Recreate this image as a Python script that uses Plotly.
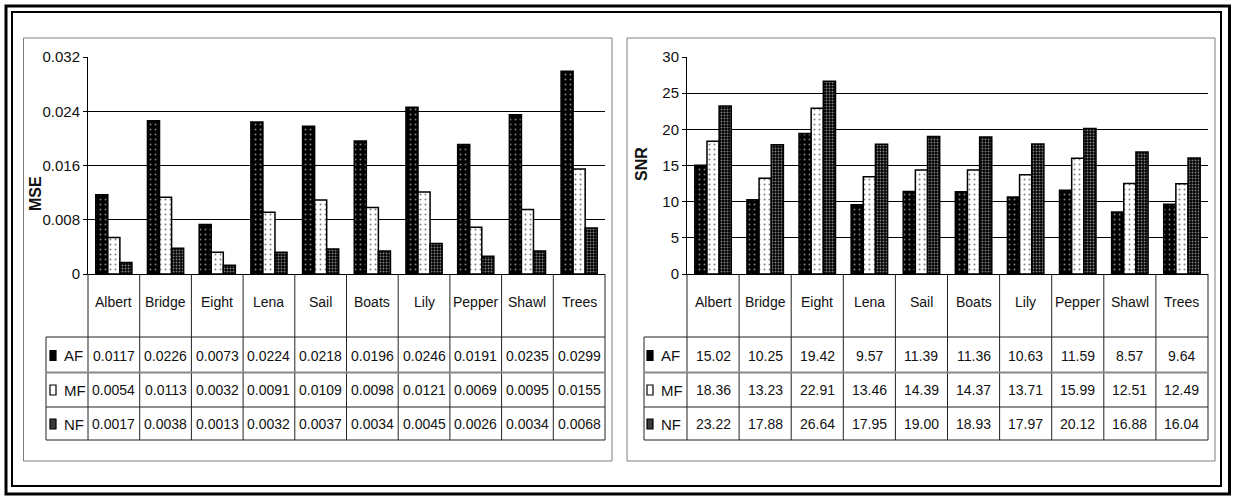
import plotly.graph_objects as go

# ---------------- data ----------------
categories = ["Albert", "Bridge", "Eight", "Lena", "Sail", "Boats", "Lily", "Pepper", "Shawl", "Trees"]
series_names = ["AF", "MF", "NF"]

mse_af = [0.0117, 0.0226, 0.0073, 0.0224, 0.0218, 0.0196, 0.0246, 0.0191, 0.0235, 0.0299]
mse_mf = [0.0054, 0.0113, 0.0032, 0.0091, 0.0109, 0.0098, 0.0121, 0.0069, 0.0095, 0.0155]
mse_nf = [0.0017, 0.0038, 0.0013, 0.0032, 0.0037, 0.0034, 0.0045, 0.0026, 0.0034, 0.0068]

snr_af = [15.02, 10.25, 19.42, 9.57, 11.39, 11.36, 10.63, 11.59, 8.57, 9.64]
snr_mf = [18.36, 13.23, 22.91, 13.46, 14.39, 14.37, 13.71, 15.99, 12.51, 12.49]
snr_nf = [23.22, 17.88, 26.64, 17.95, 19.00, 18.93, 17.97, 20.12, 16.88, 16.04]

# ---------------- geometry helpers ----------------
W, H = 1233, 497
FONT = "Liberation Sans, Arial, sans-serif"


def X(px):
    return px / W


def Y(py):
    return 1 - py / H


patterns = {
    "AF": dict(shape=".", bgcolor="black", fgcolor="white", size=5, solidity=0.12),
    "MF": dict(shape=".", bgcolor="white", fgcolor="black", size=5, solidity=0.12),
    "NF": dict(shape=".", bgcolor="black", fgcolor="white", size=3, solidity=0.35),
}
legend_fill = {"AF": "black", "MF": "white", "NF": "#3a3a3a"}

fig = go.Figure()

panels = [
    dict(xa="x", ya="y", vals=[mse_af, mse_mf, mse_nf], fmt="{:.4f}",
         axl=88, axr=605, tl=46, key_dx=4, text_dx=16, box=(23.5, 612),
         title="MSE", title_xy=(35, 194), rng=[0, 0.032], dtick=0.008),
    dict(xa="x2", ya="y2", vals=[snr_af, snr_mf, snr_nf], fmt="{:.2f}",
         axl=687, axr=1208, tl=644, key_dx=3, text_dx=15, box=(627, 1215),
         title="SNR", title_xy=(642, 164), rng=[0, 30], dtick=5),
]

top_px, zero_px = 57, 274
row_lines = [337, 372.5, 407, 440]
row_centers = [355.5, 390, 424]
cat_center = 302

shapes = []
annotations = []

# outer double frame
shapes.append(dict(type="rect", xref="paper", yref="paper", x0=X(6), x1=X(1229.5),
                   y0=Y(494), y1=Y(6), line=dict(color="black", width=3)))
shapes.append(dict(type="rect", xref="paper", yref="paper", x0=X(12), x1=X(1221),
                   y0=Y(486), y1=Y(12), line=dict(color="black", width=2)))

for i, p in enumerate(panels):
    for name, vals in zip(series_names, p["vals"]):
        fig.add_trace(go.Bar(
            x=categories, y=vals, name=name, xaxis=p["xa"], yaxis=p["ya"],
            marker=dict(pattern=patterns[name], line=dict(color="black", width=1.5)),
            showlegend=False,
        ))

    # panel border
    shapes.append(dict(type="rect", xref="paper", yref="paper",
                       x0=X(p["box"][0]), x1=X(p["box"][1]), y0=Y(461), y1=Y(38),
                       line=dict(color="#808080", width=1)))

    colw = (p["axr"] - p["axl"]) / len(categories)
    # vertical table lines (from axis down to table bottom)
    for k in range(len(categories) + 1):
        xp = p["axl"] + k * colw
        shapes.append(dict(type="line", xref="paper", yref="paper", x0=X(xp), x1=X(xp),
                           y0=Y(zero_px), y1=Y(row_lines[-1]),
                           line=dict(color="#222", width=1)))
    # left edge of table
    shapes.append(dict(type="line", xref="paper", yref="paper", x0=X(p["tl"]), x1=X(p["tl"]),
                       y0=Y(row_lines[0]), y1=Y(row_lines[-1]), line=dict(color="#222", width=1)))
    # horizontal table lines
    for j, yl in enumerate(row_lines):
        shapes.append(dict(type="line", xref="paper", yref="paper", x0=X(p["tl"]), x1=X(p["axr"]),
                           y0=Y(yl), y1=Y(yl),
                           line=dict(color="#888" if j == 1 else "#222", width=2 if j == 1 else 1)))

    # category labels
    for c in categories:
        annotations.append(dict(x=c, y=Y(cat_center), xref=p["xa"], yref="paper", text=c,
                                showarrow=False, font=dict(family=FONT, size=14, color="#111"),
                                xanchor="center", yanchor="middle"))
    # values in table
    for name, vals, yc in zip(series_names, p["vals"], row_centers):
        for c, v in zip(categories, vals):
            annotations.append(dict(x=c, y=Y(yc), xref=p["xa"], yref="paper", text=p["fmt"].format(v),
                                    showarrow=False, font=dict(family=FONT, size=14, color="#111"),
                                    xanchor="center", yanchor="middle"))
        # legend key
        shapes.append(dict(type="rect", xref="paper", yref="paper",
                           x0=X(p["tl"] + p["key_dx"]), x1=X(p["tl"] + p["key_dx"] + 6),
                           y0=Y(yc + 5), y1=Y(yc - 5),
                           fillcolor=legend_fill[name], line=dict(color="black", width=1.2)))
        annotations.append(dict(x=X(p["tl"] + p["text_dx"]), y=Y(yc), xref="paper", yref="paper",
                                text=name, showarrow=False,
                                font=dict(family=FONT, size=15, color="#111"),
                                xanchor="left", yanchor="middle"))

    # y axis title
    annotations.append(dict(x=X(p["title_xy"][0]), y=Y(p["title_xy"][1]), xref="paper", yref="paper",
                            text="<b>" + p["title"] + "</b>", textangle=-90, showarrow=False,
                            font=dict(family=FONT, size=16, color="#111"),
                            xanchor="center", yanchor="middle"))

axis_common_x = dict(type="category", showticklabels=False, showgrid=False, zeroline=False,
                     showline=True, linecolor="black", linewidth=1, ticks="", automargin=False,
                     range=[-0.5, len(categories) - 0.5], fixedrange=True)
axis_common_y = dict(showgrid=True, gridcolor="black", gridwidth=1, zeroline=False,
                     showline=True, linecolor="black", linewidth=1, ticks="outside",
                     ticklen=4, tickcolor="black", tick0=0, automargin=False,
                     tickfont=dict(family=FONT, size=15, color="#111"))

fig.update_layout(
    width=W, height=H, margin=dict(l=0, r=0, t=0, b=0, pad=0), autosize=False,
    paper_bgcolor="white", plot_bgcolor="white",
    barmode="group", bargap=0.3, bargroupgap=0,
    showlegend=False,
    xaxis=dict(domain=[X(88), X(605)], anchor="y", **axis_common_x),
    yaxis=dict(domain=[Y(zero_px), Y(top_px)], anchor="x", range=panels[0]["rng"],
               dtick=panels[0]["dtick"], **axis_common_y),
    xaxis2=dict(domain=[X(687), X(1208)], anchor="y2", **axis_common_x),
    yaxis2=dict(domain=[Y(zero_px), Y(top_px)], anchor="x2", range=panels[1]["rng"],
                dtick=panels[1]["dtick"], **axis_common_y),
    shapes=shapes,
    annotations=annotations,
)

post = ("document.documentElement.style.margin='0';document.documentElement.style.padding='0';"
        "document.documentElement.style.overflow='hidden';"
        "document.body.style.margin='0';document.body.style.padding='0';"
        "document.body.style.overflow='hidden';")

fig.write_html("out.html", post_script=post, config={"displayModeBar": False})
